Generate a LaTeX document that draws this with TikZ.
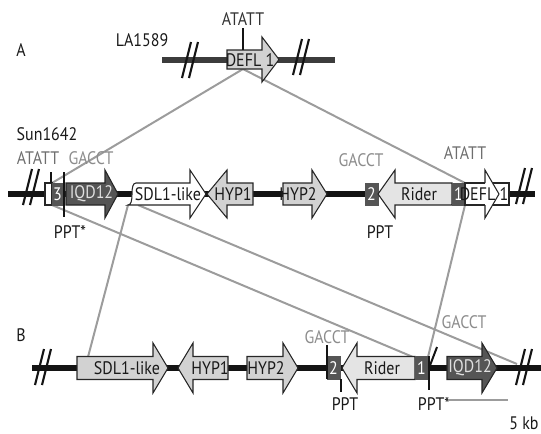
\documentclass[tikz,border=0pt]{standalone}
\usepackage{fontspec}
\setmainfont[FakeStretch=0.88]{PT Sans}
\definecolor{lgray}{HTML}{D2D2D2}
\definecolor{vlgray}{HTML}{E4E4E4}
\definecolor{dgray}{HTML}{555555}
\definecolor{conncol}{HTML}{9C9C9C}
\definecolor{siteA}{HTML}{6E6E6E}
\definecolor{siteG}{HTML}{8C8C8C}
\definecolor{lineAcol}{HTML}{3C3C3C}
\newcommand\GR[7]{\draw[gene,fill=#7] (#1,#4-#5) -- (#2,#4-#5) -- (#2,#4-#6) -- (#3,#4) -- (#2,#4+#6) -- (#2,#4+#5) -- (#1,#4+#5) -- cycle;}
\newcommand\GL[7]{\draw[gene,fill=#7] (#3,#4-#5) -- (#2,#4-#5) -- (#2,#4-#6) -- (#1,#4) -- (#2,#4+#6) -- (#2,#4+#5) -- (#3,#4+#5) -- cycle;}
\newcommand\brk[2]{\draw[brkline] (#1-8,#2+18) -- (#1+1,#2-18); \draw[brkline] (#1-1,#2+18) -- (#1+8,#2-18);}
\begin{document}
\begin{tikzpicture}[x=0.75pt,y=-0.75pt,
  lbl/.style={font=\fontsize{13.6}{16}\selectfont,inner sep=0pt,text=black!90},
  gene/.style={draw=black!85,line width=0.8pt,line join=miter},
  dbox/.style={draw=dgray,fill=dgray,line width=0.5pt},
  backbone/.style={line width=3.9pt,black!92},
  lineA/.style={line width=4.5pt,lineAcol},
  brkline/.style={line width=1.6pt,black!92},
  tickline/.style={line width=1.5pt,black!92},
  conn/.style={line width=1.5pt,conncol},
  wtext/.style={lbl,text=white},
]
\useasboundingbox (0,0) rectangle (541,433);

% ---------------- connector end points
\coordinate (a0) at (243,69);
\coordinate (s1) at (52,183);
\coordinate (s2) at (465,183);
\coordinate (s3) at (52,205);
\coordinate (s4) at (138,205);
\coordinate (s5) at (128,205);
\coordinate (s6) at (465,205);
\coordinate (b3) at (413,357);
\coordinate (b4) at (517,364);
\coordinate (b5) at (88,357);
\coordinate (b6) at (428,357);
\coordinate (sc1) at (448,400);
\coordinate (sc2) at (508,400);

\draw[conn] (a0) -- (s1);
\draw[conn] (a0) -- (s2);
\draw[conn] (s3) -- (b3);
\draw[conn] (s4) -- (b4);
\draw[conn] (s5) -- (b5);
\draw[conn] (s6) -- (b6);

% ---------------- row A : LA1589
\draw[lineA] (162,59.5) -- (335,59.5);
\brk{190}{60}
\brk{301}{57}
\draw[gene,fill=lgray] (227,50) -- (262,50) -- (262,37) -- (279,59.5) -- (262,82) -- (262,69) -- (227,69) -- cycle;
\node[lbl] (deflA) at (250,60) {DEFL 1};
\draw[tickline] (243,28) -- (243,50);
\node[lbl,text=black!80] (atattA) at (243,19) {ATATT};
\node[lbl] (la) at (142,40) {LA1589};
\node[lbl] (labA) at (21,50) {A};

% ---------------- row Sun1642
\draw[backbone] (8,194) -- (535,194);
\brk{31}{187}
\brk{524}{186}
\node[lbl] (sun) at (47,134) {Sun1642};
\node[lbl,text=siteA] (atatt1) at (38,158) {ATATT};
\node[lbl,text=siteG] (gacct1) at (91,158) {GACCT};
\node[lbl,text=siteG] (gacct2) at (361,160) {GACCT};
\node[lbl,text=siteA] (atatt2) at (465,153) {ATATT};
\node[lbl] (ppts1) at (70,232) {PPT*};
\node[lbl] (ppt1) at (380,232) {PPT};

\draw[gene,fill=white] (45,183) rectangle (52,205);
\draw[dbox] (52,183) rectangle (62,205);
\node[wtext] (n3) at (57.5,194) {3};
\draw[tickline] (51,172) -- (51,183);
\draw[tickline] (63.5,172) -- (63.5,217);
\GR{66}{105}{118}{194}{11}{24}{dgray}
\node[lbl,text=black!12] (iqdS) at (91.5,194) {IQD12};

\draw[gene,fill=white] (136,183) -- (190,183) -- (190,170) -- (206,194) -- (190,218) -- (190,205) -- (128,205)
  .. controls (131,205) and (132,201) .. (132,194) .. controls (132,187) and (133,183) .. (136,183) -- cycle;
\node[lbl] (sdlS) at (168,194) {SDL1-like};
\GL{207}{227}{253}{194}{11}{24}{lgray}
\node[lbl] (hyp1S) at (233,194) {HYP1};
\GR{283}{312}{327}{194}{11}{24}{lgray}
\node[lbl] (hyp2S) at (298,194) {HYP2};
\draw[dbox] (365,183) rectangle (378,205);
\node[wtext] (n2S) at (371.5,194) {2};
\GL{378}{395}{452}{194}{11}{24}{vlgray}
\node[lbl] (riderS) at (419,194) {Rider};
\draw[dbox] (452,183) rectangle (465,205);
\node[wtext] (n1S) at (458.5,194) {1};
\draw[gene,fill=white] (465,183) rectangle (509,205);
\draw[gene,fill=white] (485,183) -- (485,170) -- (499,194) -- (485,218) -- (485,205);
\node[lbl] (deflS) at (477.5,194) {DEFL};
\node[lbl] (deflS1) at (504,194) {1};

% ---------------- row B
\draw[backbone] (32,368) -- (541,368);
\brk{43}{367}
\brk{524}{367}
\node[lbl] (labB) at (21,335) {B};
\GR{77}{153}{168}{368}{11.5}{25}{lgray}
\node[lbl] (sdlB) at (127,368) {SDL1-like};
\GL{178}{193}{228}{368}{11.5}{25}{lgray}
\node[lbl] (hyp1B) at (210,368) {HYP1};
\GR{247}{283}{298}{368}{11.5}{25}{lgray}
\node[lbl] (hyp2B) at (266,368) {HYP2};
\draw[dbox] (327,356.5) rectangle (340,379.5);
\node[wtext] (n2B) at (333.5,368) {2};
\draw[tickline] (327,345) -- (327,379);
\draw[tickline] (341,379) -- (341,392);
\GL{342}{357}{415}{368}{11.5}{25}{vlgray}
\node[lbl] (riderB) at (382,368) {Rider};
\draw[dbox] (415,356.5) rectangle (428,379.5);
\node[wtext] (n1B) at (421.5,368) {1};
\draw[tickline] (429,356) -- (429,390);
\draw[tickline] (429,368) -- (437,347);
\GR{447}{482}{497}{368}{11.5}{25}{dgray}
\node[lbl,text=black!12] (iqdB) at (470,368) {IQD12};
\node[lbl,text=siteG] (gacct3) at (327,337) {GACCT};
\node[lbl,text=siteG] (gacct4) at (464,322) {GACCT};
\node[lbl] (ppt2) at (345,404) {PPT};
\node[lbl] (ppts2) at (434,404) {PPT*};
\draw[conn] (sc1) -- (sc2);
\node[lbl] (kb) at (524,423) {5 kb};
\end{tikzpicture}
\end{document}
